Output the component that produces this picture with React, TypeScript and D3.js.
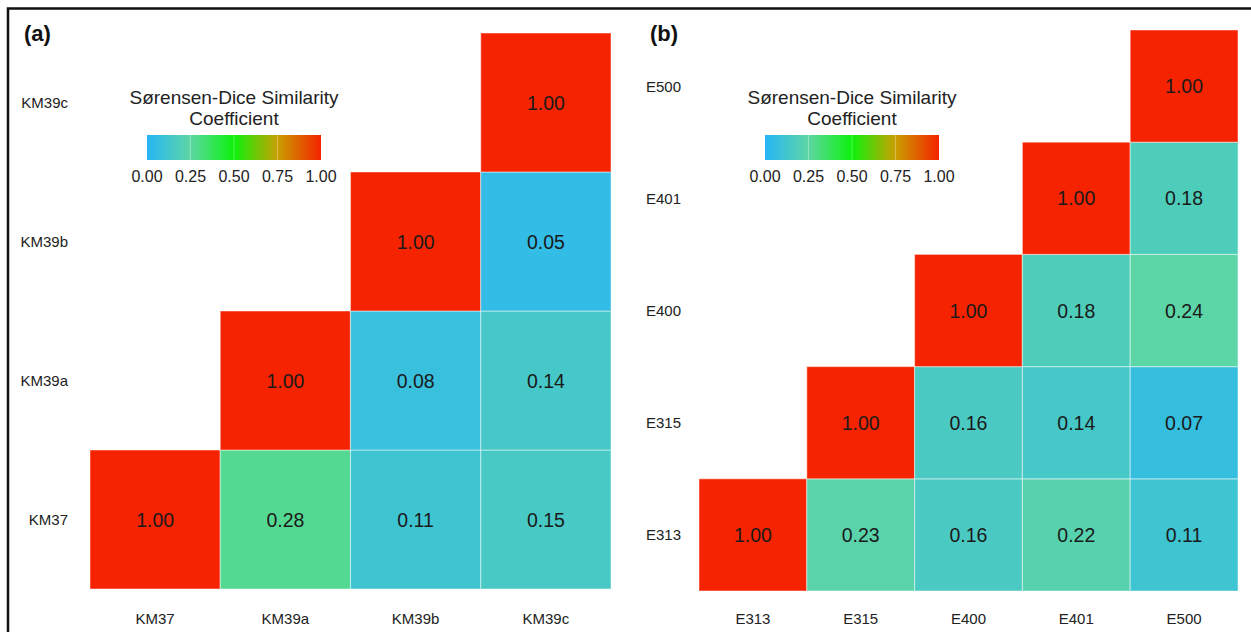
import React from "react";
import * as d3 from "d3";

const catsA = ["KM37", "KM39a", "KM39b", "KM39c"];
// upper-triangular values: [xCategory, yCategory, value]
const valuesA: [string, string, number][] = [
  ["KM37", "KM37", 1.0],
  ["KM39a", "KM37", 0.28],
  ["KM39b", "KM37", 0.11],
  ["KM39c", "KM37", 0.15],
  ["KM39a", "KM39a", 1.0],
  ["KM39b", "KM39a", 0.08],
  ["KM39c", "KM39a", 0.14],
  ["KM39b", "KM39b", 1.0],
  ["KM39c", "KM39b", 0.05],
  ["KM39c", "KM39c", 1.0],
];

const catsB = ["E313", "E315", "E400", "E401", "E500"];
const valuesB: [string, string, number][] = [
  ["E313", "E313", 1.0],
  ["E315", "E313", 0.23],
  ["E400", "E313", 0.16],
  ["E401", "E313", 0.22],
  ["E500", "E313", 0.11],
  ["E315", "E315", 1.0],
  ["E400", "E315", 0.16],
  ["E401", "E315", 0.14],
  ["E500", "E315", 0.07],
  ["E400", "E400", 1.0],
  ["E401", "E400", 0.18],
  ["E500", "E400", 0.24],
  ["E401", "E401", 1.0],
  ["E500", "E401", 0.18],
  ["E500", "E500", 1.0],
];

const legendTicks = [0, 0.25, 0.5, 0.75, 1];
const colorStops = ["#27B5F6", "#5ED6A4", "#0CF20C", "#C9A000", "#F62300"];

const color = d3.scaleLinear<string>().domain(legendTicks).range(colorStops).interpolate(d3.interpolateRgb);

const FONT = "'Liberation Sans', Arial, sans-serif";

type PanelProps = {
  id: string;
  label: string;
  cats: string[];
  values: [string, string, number][];
  x0: number;
  x1: number;
  y0: number;
  y1: number;
  yLabelRight: number;
  labelX: number;
  legendX: number;
};

function Panel(p: PanelProps) {
  const x = d3.scaleBand<string>().domain(p.cats).range([p.x0, p.x1]);
  const y = d3.scaleBand<string>().domain(p.cats).range([p.y1, p.y0]);
  const lx = d3.scaleLinear().domain([0, 1]).range([p.legendX, p.legendX + 174]);
  const gradId = "grad-" + p.id;
  return (
    <g>
      <text x={p.labelX} y={41} fontFamily={FONT} fontWeight="bold" fontSize={22} fill="#111">
        {p.label}
      </text>
      {p.values.map(([cx, cy, v]) => (
        <g key={cx + cy}>
          <rect
            x={x(cx)}
            y={y(cy)}
            width={x.bandwidth()}
            height={y.bandwidth()}
            fill={color(v)}
            stroke="#ffffff"
            strokeOpacity={0.4}
            strokeWidth={1.2}
          />
          <text
            x={(x(cx) as number) + x.bandwidth() / 2}
            y={(y(cy) as number) + y.bandwidth() / 2}
            dy="0.36em"
            textAnchor="middle"
            fontFamily={FONT}
            fontSize={19.5}
            fill="#1a1a1a"
          >
            {v.toFixed(2)}
          </text>
        </g>
      ))}
      {p.cats.map((c) => (
        <text
          key={"x" + c}
          x={(x(c) as number) + x.bandwidth() / 2}
          y={624}
          textAnchor="middle"
          fontFamily={FONT}
          fontSize={15}
          fill="#222"
        >
          {c}
        </text>
      ))}
      {p.cats.map((c) => (
        <text
          key={"y" + c}
          x={p.yLabelRight}
          y={(y(c) as number) + y.bandwidth() / 2}
          dy="0.36em"
          textAnchor="end"
          fontFamily={FONT}
          fontSize={15}
          fill="#222"
        >
          {c}
        </text>
      ))}
      {/* legend */}
      <defs>
        <linearGradient id={gradId} x1="0" x2="1" y1="0" y2="0">
          {legendTicks.map((t, i) => (
            <stop key={t} offset={t} stopColor={colorStops[i]} />
          ))}
        </linearGradient>
      </defs>
      <text x={lx(0.5)} y={104} textAnchor="middle" fontFamily={FONT} fontSize={19} fill="#222">
        Sørensen-Dice Similarity
      </text>
      <text x={lx(0.5)} y={125} textAnchor="middle" fontFamily={FONT} fontSize={19} fill="#222">
        Coefficient
      </text>
      <rect x={lx(0)} y={135} width={lx(1) - lx(0)} height={25} fill={`url(#${gradId})`} />
      {legendTicks.slice(1, -1).map((t) => (
        <line key={t} x1={lx(t)} x2={lx(t)} y1={135} y2={160} stroke="#fff" strokeOpacity={0.3} strokeWidth={1} />
      ))}
      {legendTicks.map((t) => (
        <text key={"l" + t} x={lx(t)} y={182} textAnchor="middle" fontFamily={FONT} fontSize={16} fill="#222">
          {t.toFixed(2)}
        </text>
      ))}
    </g>
  );
}

export default function App() {
  return (
    <svg
      width={1251}
      height={632}
      style={{ position: "absolute", left: 0, top: 0, background: "#fff" }}
    >
      <rect x={0} y={0} width={1251} height={632} fill="#fff" />
      <Panel
        id="a"
        label="(a)"
        cats={catsA}
        values={valuesA}
        x0={90}
        x1={611}
        y0={33}
        y1={589}
        yLabelRight={68}
        labelX={24}
        legendX={147}
      />
      <Panel
        id="b"
        label="(b)"
        cats={catsB}
        values={valuesB}
        x0={699}
        x1={1238}
        y0={30}
        y1={591}
        yLabelRight={681}
        labelX={650}
        legendX={765}
      />
      <rect x={8} y={8.5} width={1270} height={660} fill="none" stroke="#111" strokeWidth={2.5} />
    </svg>
  );
}
